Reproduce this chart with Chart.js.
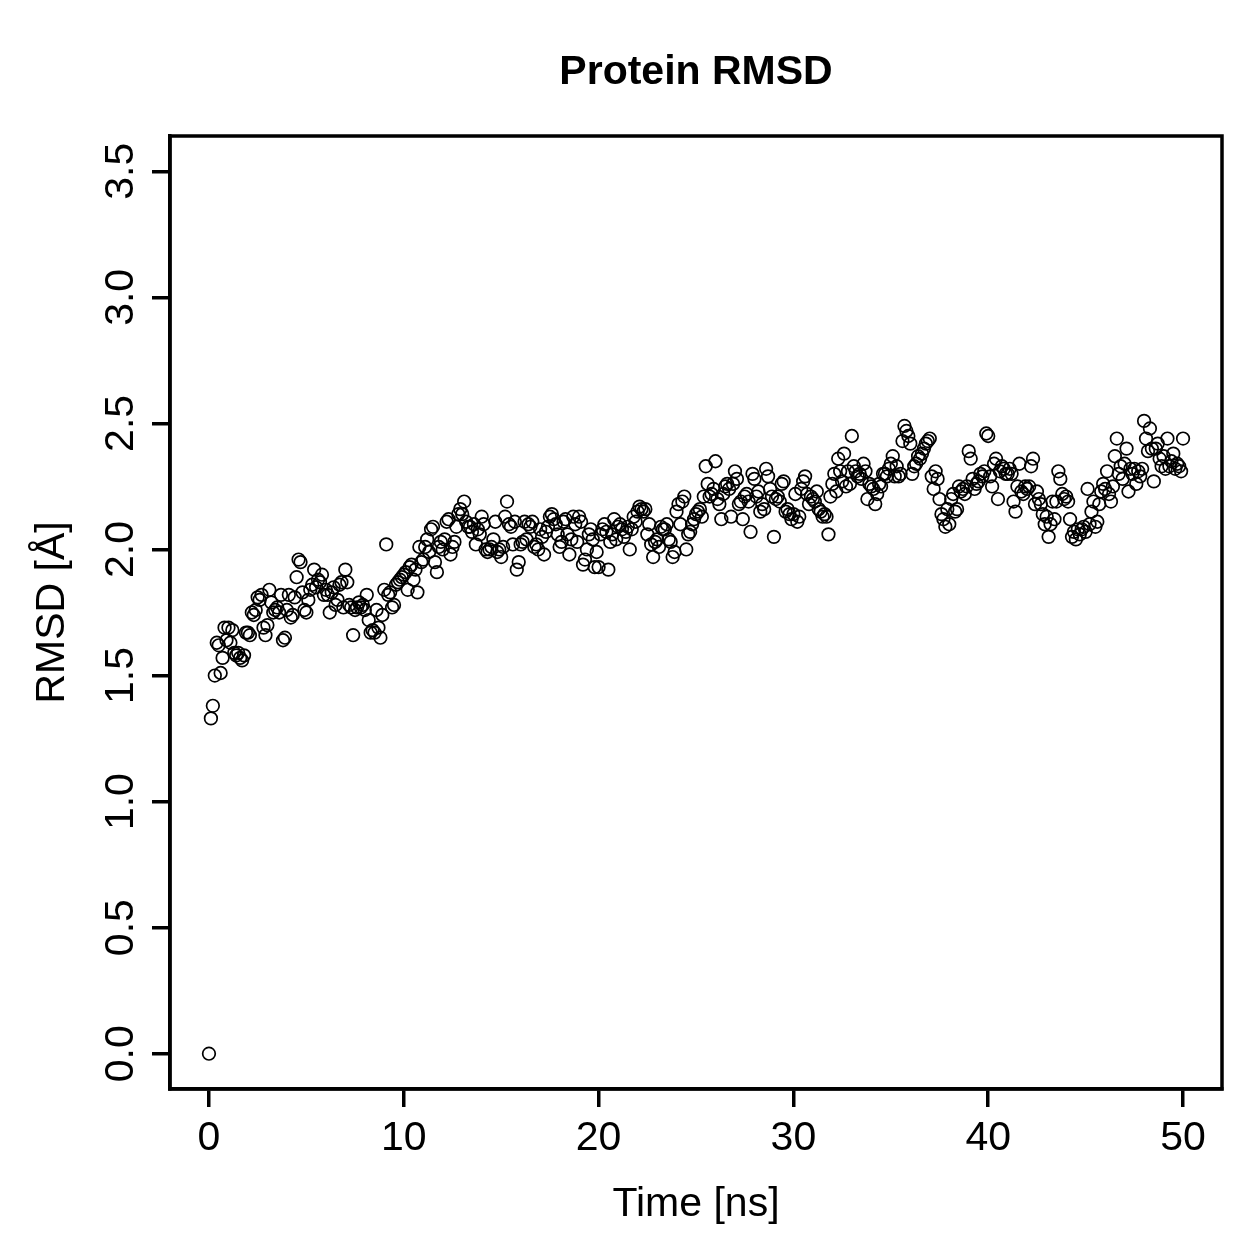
<!DOCTYPE html>
<html>
<head>
<meta charset="utf-8">
<script src="https://cdn.jsdelivr.net/npm/chart.js@4.4.0/dist/chart.umd.min.js"></script>
<style>
  body { margin: 0; background: #fff; }
  #wrap { width: 1259px; height: 1259px; }
</style>
</head>
<body>
<div id="wrap"><canvas id="rmsdChart" width="1259" height="1259"></canvas></div>
<script>
// time step between frames (ns)
const timeStep = 0.1;

// RMSD values, 0.1 ns apart
const rmsd0to10 = [
    0.00, 1.33, 1.38, 1.50, 1.63, 1.62, 1.51, 1.57, 1.69, 1.64,
    1.69, 1.63, 1.68, 1.59, 1.58, 1.59, 1.57, 1.56, 1.58, 1.67,
    1.67, 1.66, 1.75, 1.74, 1.76, 1.81, 1.80, 1.82, 1.69, 1.66,
    1.70, 1.84, 1.79, 1.75, 1.76, 1.77, 1.75, 1.82, 1.64, 1.65,
    1.76, 1.82, 1.73, 1.74, 1.81, 1.89, 1.96, 1.95, 1.83, 1.76,
    1.75, 1.80, 1.84, 1.86, 1.92, 1.85, 1.88, 1.87, 1.90, 1.82,
    1.84, 1.82, 1.75, 1.83, 1.85, 1.78, 1.80, 1.86, 1.87, 1.77,
    1.92, 1.87, 1.78, 1.77, 1.66, 1.76, 1.77, 1.79, 1.77, 1.78,
    1.76, 1.82, 1.72, 1.67, 1.68, 1.67, 1.76, 1.69, 1.65, 1.74,
    1.84, 2.02, 1.82, 1.83, 1.77, 1.78, 1.86, 1.87, 1.88, 1.89
];
const rmsd10to20 = [
    1.90, 1.91, 1.84, 1.93, 1.94, 1.88, 1.92, 1.83, 2.01, 1.95,
    1.96, 2.01, 2.04, 1.99, 2.08, 2.09, 1.95, 1.91, 2.01, 2.03,
    2.00, 2.04, 2.11, 2.12, 1.98, 2.01, 2.03, 2.09, 2.14, 2.16,
    2.14, 2.19, 2.11, 2.09, 2.09, 2.07, 2.10, 2.02, 2.08, 2.06,
    2.13, 2.10, 2.00, 1.99, 2.00, 2.01, 2.04, 2.11, 1.99, 2.00,
    1.97, 2.01, 2.13, 2.19, 2.10, 2.09, 2.02, 2.11, 1.92, 1.95,
    2.02, 2.03, 2.11, 2.04, 2.10, 2.09, 2.11, 2.01, 2.02, 2.00,
    2.08, 2.05, 1.98, 2.07, 2.09, 2.13, 2.14, 2.12, 2.10, 2.06,
    2.01, 2.03, 2.11, 2.12, 2.06, 1.98, 2.04, 2.13, 2.10, 2.03,
    2.13, 2.11, 1.94, 1.96, 2.00, 2.06, 2.08, 2.04, 1.93, 1.99
];
const rmsd20to30 = [
    1.93, 2.06, 2.08, 2.10, 2.07, 1.92, 2.03, 2.06, 2.12, 2.04,
    2.09, 2.10, 2.08, 2.05, 2.07, 2.09, 2.00, 2.08, 2.13, 2.11,
    2.15, 2.17, 2.16, 2.15, 2.16, 2.06, 2.10, 2.02, 1.97, 2.03,
    2.04, 2.01, 2.09, 2.08, 2.08, 2.10, 2.04, 2.03, 1.97, 1.99,
    2.15, 2.18, 2.10, 2.19, 2.21, 2.00, 2.06, 2.07, 2.10, 2.12,
    2.14, 2.15, 2.16, 2.13, 2.21, 2.33, 2.26, 2.21, 2.22, 2.24,
    2.35, 2.20, 2.18, 2.12, 2.22, 2.25, 2.26, 2.24, 2.13, 2.26,
    2.31, 2.28, 2.18, 2.19, 2.12, 2.21, 2.22, 2.19, 2.07, 2.30,
    2.28, 2.21, 2.23, 2.15, 2.18, 2.16, 2.32, 2.29, 2.24, 2.21,
    2.05, 2.20, 2.21, 2.19, 2.26, 2.27, 2.15, 2.16, 2.14, 2.12
];
const rmsd30to40 = [
    2.14, 2.22, 2.11, 2.13, 2.24, 2.27, 2.29, 2.22, 2.18, 2.21,
    2.20, 2.19, 2.23, 2.16, 2.15, 2.13, 2.14, 2.13, 2.06, 2.21,
    2.26, 2.30, 2.23, 2.36, 2.31, 2.27, 2.38, 2.25, 2.31, 2.26,
    2.45, 2.33, 2.31, 2.29, 2.30, 2.28, 2.34, 2.31, 2.20, 2.26,
    2.25, 2.24, 2.18, 2.22, 2.26, 2.25, 2.30, 2.30, 2.29, 2.32,
    2.34, 2.37, 2.29, 2.33, 2.29, 2.30, 2.43, 2.49, 2.47, 2.45,
    2.42, 2.30, 2.33, 2.34, 2.37, 2.36, 2.38, 2.40, 2.42, 2.43,
    2.44, 2.29, 2.24, 2.31, 2.28, 2.20, 2.14, 2.12, 2.09, 2.16,
    2.10, 2.20, 2.22, 2.15, 2.16, 2.25, 2.23, 2.24, 2.22, 2.25,
    2.39, 2.36, 2.28, 2.24, 2.26, 2.27, 2.30, 2.29, 2.31, 2.46
];
const rmsd40to50 = [
    2.45, 2.29, 2.25, 2.34, 2.36, 2.20, 2.31, 2.33, 2.32, 2.30,
    2.30, 2.32, 2.30, 2.19, 2.15, 2.25, 2.34, 2.23, 2.22, 2.25,
    2.24, 2.25, 2.33, 2.36, 2.18, 2.23, 2.20, 2.18, 2.14, 2.10,
    2.13, 2.05, 2.10, 2.19, 2.12, 2.19, 2.31, 2.28, 2.22, 2.20,
    2.21, 2.19, 2.12, 2.05, 2.07, 2.04, 2.08, 2.06, 2.08, 2.09,
    2.07, 2.24, 2.10, 2.15, 2.19, 2.09, 2.11, 2.18, 2.23, 2.26,
    2.24, 2.31, 2.22, 2.19, 2.25, 2.37, 2.44, 2.30, 2.33, 2.28,
    2.34, 2.40, 2.23, 2.32, 2.30, 2.32, 2.26, 2.31, 2.29, 2.32,
    2.51, 2.44, 2.39, 2.48, 2.40, 2.27, 2.40, 2.42, 2.36, 2.33,
    2.37, 2.32, 2.44, 2.33, 2.35, 2.38, 2.32, 2.34, 2.33, 2.31,
    2.44
];

const xTicks = [0, 10, 20, 30, 40, 50];
const yTicks = [0.0, 0.5, 1.0, 1.5, 2.0, 2.5, 3.0, 3.5];
const mainTitle = 'Protein RMSD';
const xTitle = 'Time [ns]';
const yTitle = 'RMSD [Å]';

const rmsd = rmsd0to10.concat(rmsd10to20, rmsd20to30, rmsd30to40, rmsd40to50);
const points = rmsd.map(function (v, i) {
    return { x: +(i * timeStep).toFixed(1), y: v };
});

const FONT = '"Liberation Sans", Arial, Helvetica, sans-serif';

// R-style box, tick labels and titles
const rFrame = {
    id: 'rFrame',
    afterDraw(chart) {
        const ctx = chart.ctx;
        const a = chart.chartArea;
        const xs = chart.scales.x;
        const ys = chart.scales.y;
        ctx.save();
        ctx.strokeStyle = '#000';
        ctx.lineWidth = 3.5;
        ctx.strokeRect(a.left, a.top, a.right - a.left, a.bottom - a.top);

        ctx.fillStyle = '#000';
        ctx.textAlign = 'center';
        ctx.textBaseline = 'alphabetic';
        ctx.font = '41px ' + FONT;
        xTicks.forEach(function (v) {
            ctx.fillText(String(v), xs.getPixelForValue(v), 1150);
        });
        ctx.fillText(xTitle, (a.left + a.right) / 2, 1216);

        yTicks.forEach(function (v) {
            ctx.save();
            ctx.translate(133, ys.getPixelForValue(v));
            ctx.rotate(-Math.PI / 2);
            ctx.fillText(v.toFixed(1), 0, 0);
            ctx.restore();
        });
        ctx.save();
        ctx.translate(64, (a.top + a.bottom) / 2);
        ctx.rotate(-Math.PI / 2);
        ctx.fillText(yTitle, 0, 0);
        ctx.restore();

        ctx.font = 'bold 41px ' + FONT;
        ctx.fillText(mainTitle, (a.left + a.right) / 2, 84);
        ctx.restore();
    }
};

new Chart('rmsdChart', {
    type: 'scatter',
    data: {
        datasets: [{
            data: points,
            pointStyle: 'circle',
            pointRadius: 6.3,
            pointBorderWidth: 1.7,
            borderColor: '#000',
            backgroundColor: 'rgba(0,0,0,0)',
            pointHoverRadius: 6.3
        }]
    },
    options: {
        responsive: false,
        animation: false,
        events: [],
        layout: { padding: { top: 136, right: 37, left: 0, bottom: 0 } },
        plugins: { legend: { display: false }, title: { display: false }, tooltip: { enabled: false } },
        scales: {
            x: {
                type: 'linear',
                min: -2,
                max: 52,
                afterBuildTicks: function (scale) {
                    scale.ticks = xTicks.map(function (v) { return { value: v }; });
                },
                afterFit: function (scale) { scale.height = 170; },
                ticks: { display: false },
                grid: { drawOnChartArea: false, drawTicks: true, tickLength: 18, color: '#000', lineWidth: 3.5 },
                border: { display: true, color: '#000', width: 3.5 }
            },
            y: {
                type: 'linear',
                min: -0.14,
                max: 3.64,
                afterBuildTicks: function (scale) {
                    scale.ticks = yTicks.map(function (v) { return { value: v }; });
                },
                afterFit: function (scale) { scale.width = 170; },
                ticks: { display: false },
                grid: { drawOnChartArea: false, drawTicks: true, tickLength: 18, color: '#000', lineWidth: 3.5 },
                border: { display: true, color: '#000', width: 3.5 }
            }
        }
    },
    plugins: [rFrame]
});
</script>
</body>
</html>
